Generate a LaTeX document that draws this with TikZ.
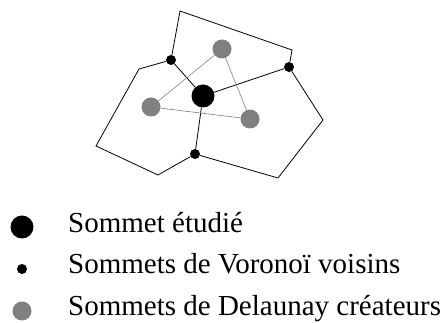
\documentclass[tikz,border=0pt]{standalone}
\usepackage{fontspec}
\setmainfont{Liberation Serif}
\usetikzlibrary{backgrounds}
\begin{document}
\begin{tikzpicture}[x=1pt,y=1pt,
    sommet/.style={circle, fill=black, minimum size=23pt, inner sep=0pt},
    voisin/.style={circle, fill=black, minimum size=10pt, inner sep=0pt},
    createur/.style={circle, fill=gray, minimum size=19pt, inner sep=0pt},
    arete/.style={black, line width=0.8pt},
    delaunay/.style={gray, line width=0.6pt},
    legende/.style={anchor=base west, inner sep=0pt, font=\fontsize{29}{34}\selectfont}]
    \useasboundingbox (0,0) rectangle (444,323);
    % sommets
    \node[sommet] (c) at (203,227) {};
    \node[voisin] (v1) at (171,263) {};
    \node[voisin] (v2) at (289,256) {};
    \node[voisin] (v3) at (195,169) {};
    \node[createur] (g1) at (222,274) {};
    \node[createur] (g2) at (151,216) {};
    \node[createur] (g3) at (250,204) {};
    % coins des cellules
    \coordinate (t1) at (180,312);
    \coordinate (t2) at (292,273);
    \coordinate (l1) at (139,254);
    \coordinate (l2) at (96,177);
    \coordinate (l3) at (158,148);
    \coordinate (r1) at (323,203);
    \coordinate (r2) at (278,145);
    \draw[arete] (v1) -- (t1) -- (t2) -- (v2);
    \draw[arete] (v1) -- (l1) -- (l2) -- (l3) -- (v3);
    \draw[arete] (v2) -- (r1) -- (r2) -- (v3);
    \draw[arete] (v1) -- (c);
    \draw[arete] (v2) -- (c);
    \draw[arete] (v3) -- (c);
    \draw[delaunay] (g1) -- (g2) -- (g3) -- (g1);
    % legende
    \node[sommet] (ls) at (22,96) {};
    \node[voisin] (lv) at (22,54) {};
    \node[createur] (lc) at (22,12) {};
    \node[legende] (ts) at (68,90) {Sommet étudié};
    \node[legende] (tv) at (68,49) {Sommets de Voronoï voisins};
    \node[legende] (tc) at (68,7) {Sommets de Delaunay créateurs};
\end{tikzpicture}
\end{document}
